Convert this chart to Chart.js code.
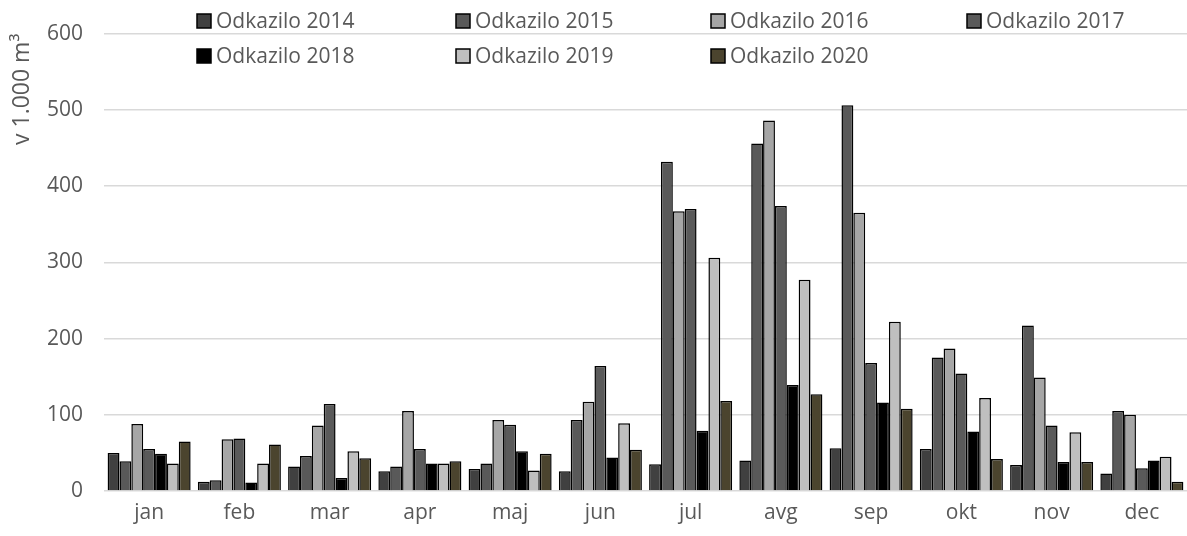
<!DOCTYPE html>
<html>
<head>
<meta charset="utf-8">
<script src="https://cdn.jsdelivr.net/npm/chart.js@4"></script>
<style>
  html, body { margin: 0; padding: 0; background: #fff; overflow: hidden; }
  #wrap { width: 1187px; height: 536px; }
</style>
</head>
<body>
<div id="wrap"><canvas id="myChart"></canvas></div>
<script>
// months and yearly values (v 1.000 m3)
var months = ['jan', 'feb', 'mar', 'apr', 'maj', 'jun', 'jul', 'avg', 'sep', 'okt', 'nov', 'dec'];
var v2014 = [50, 12, 32, 26, 29, 26, 35, 40, 56, 55, 34, 23];
var v2015 = [39, 14, 46, 32, 36, 93, 432, 456, 506, 175, 217, 105];
var v2016 = [88, 68, 86, 105, 93, 117, 367, 486, 365, 187, 149, 100];
var v2017 = [55, 69, 114, 55, 87, 164, 370, 374, 168, 154, 86, 30];
var v2018 = [49, 11, 17, 36, 52, 44, 79, 139, 116, 78, 38, 40];
var v2019 = [36, 36, 52, 36, 27, 89, 306, 277, 222, 122, 77, 45];
var v2020 = [65, 61, 43, 39, 49, 54, 118, 127, 108, 42, 38, 12];
var yTicks = [0, 100, 200, 300, 400, 500, 600];

var txt = '#595959';
var fnt = { family: '"Open Sans"', size: 21 };

function bars(label, data, color) {
  return {
    label: label,
    data: data,
    backgroundColor: color,
    borderColor: '#000',
    borderWidth: 1.5,
    categoryPercentage: 0.92,
    barPercentage: 1.0
  };
}

// legend drawn over the top of the plot, Excel style
var legendCols = [197, 456, 711, 967];
var overLegend = {
  id: 'overLegend',
  afterDraw: function(chart) {
    var ctx = chart.ctx;
    ctx.save();
    ctx.font = '21px "Open Sans"';
    ctx.textBaseline = 'middle';
    chart.data.datasets.forEach(function(ds, i) {
      var x = legendCols[i % 4];
      var y = 21 + Math.floor(i / 4) * 35;
      ctx.fillStyle = ds.backgroundColor;
      ctx.fillRect(x, y - 7, 14, 14);
      ctx.lineWidth = 1.5;
      ctx.strokeStyle = '#000';
      ctx.strokeRect(x, y - 7, 14, 14);
      ctx.fillStyle = txt;
      ctx.fillText(ds.label, x + 19, y + 1);
    });
    ctx.restore();
  }
};

var ctx = document.getElementById('myChart');
var myChart = new Chart(ctx, {
  type: 'bar',
  data: {
    labels: months,
    datasets: [
      bars('Odkazilo 2014', v2014, '#404040'),
      bars('Odkazilo 2015', v2015, '#595959'),
      bars('Odkazilo 2016', v2016, '#a6a6a6'),
      bars('Odkazilo 2017', v2017, '#5a5a5a'),
      bars('Odkazilo 2018', v2018, '#000000'),
      bars('Odkazilo 2019', v2019, '#bfbfbf'),
      bars('Odkazilo 2020', v2020, '#4b442e')
    ]
  },
  options: {
    responsive: true,
    maintainAspectRatio: false,
    animation: false,
    layout: { padding: { top: 30, right: 0, bottom: 0, left: 0 } },
    plugins: {
      legend: { display: false },
      tooltip: { enabled: false }
    },
    scales: {
      x: {
        grid: { display: false, drawTicks: false },
        border: { display: false },
        ticks: { color: txt, font: fnt, padding: 9 },
        afterFit: function(s) { s.height = 45; }
      },
      y: {
        min: 0,
        max: 600,
        afterBuildTicks: function(s) { s.ticks = yTicks.map(function(v) { return { value: v }; }); },
        grid: { color: '#d9d9d9', lineWidth: 1.5, drawTicks: false },
        border: { display: false },
        ticks: { color: txt, font: fnt, padding: 21 },
        title: {
          display: true,
          text: 'v 1.000 m³',
          color: txt,
          font: { family: '"Open Sans"', size: 23 },
          align: 'end',
          padding: { top: 9, bottom: 0 }
        },
        afterFit: function(s) { s.width = 104; }
      }
    }
  },
  plugins: [overLegend]
});
</script>
</body>
</html>
